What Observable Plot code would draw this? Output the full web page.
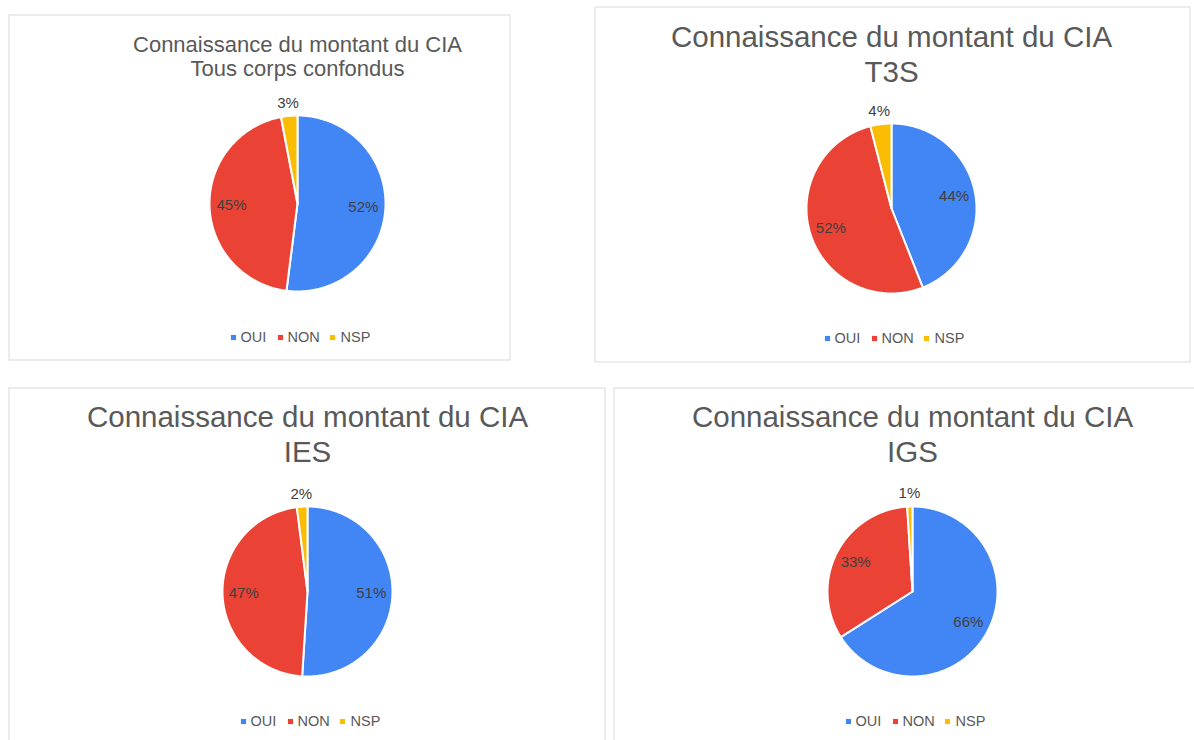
<!DOCTYPE html>
<html>
<head>
<meta charset="utf-8">
<script src="https://cdn.jsdelivr.net/npm/d3@7"></script>
<script src="https://cdn.jsdelivr.net/npm/@observablehq/plot@0.6"></script>
<style>
  html, body { margin: 0; padding: 0; background: #fff; overflow: hidden; }
  #chart svg { display: block; }
</style>
</head>
<body>
<div id="chart"></div>
<script>
// ---- Data ----
const categories = ["OUI", "NON", "NSP"];
const titleLine1 = "Connaissance du montant du CIA";
const groups = ["Tous corps confondus", "T3S", "IES", "IGS"];
const oui = [52, 44, 51, 66];
const non = [45, 52, 47, 33];
const nsp = [3, 4, 2, 1];
const colors = ["#4285F4", "#EA4335", "#FBBC04"];

// ---- Layout (pixel positions of each panel) ----
const W = 1194, H = 740;
const layout = [
  {x1: 9,   y1: 15,  x2: 510,  y2: 360, cx: 297, cy: 203, r: 88, ts: 22,   t1: 44, t2: 68, ly: 337},
  {x1: 595, y1: 7,   x2: 1190, y2: 362, cx: 891, cy: 208, r: 85, ts: 29.5, t1: 37, t2: 72, ly: 338},
  {x1: 9,   y1: 388, x2: 605,  y2: 760, cx: 307, cy: 591, r: 85, ts: 29.5, t1: 417, t2: 452, ly: 721},
  {x1: 614, y1: 388, x2: 1210, y2: 760, cx: 912, cy: 591, r: 85, ts: 29.5, t1: 417, t2: 452, ly: 721}
];
const legendSquareDx = [-64, -17, 35];
const legendTextDx = [-57, -10, 43];

// ---- Derived geometry from values ----
const slices = [], labels = [], titles = [], legendMarks = [], legendTexts = [];
groups.forEach((g, i) => {
  const L = layout[i];
  const vals = [oui[i], non[i], nsp[i]];
  const arcs = d3.pie().sort(null).value(d => d)(vals);
  arcs.forEach((a, k) => {
    const key = g + "|" + categories[k];
    const pts = [{x: L.cx, y: L.cy}];
    const n = Math.max(2, Math.ceil((a.endAngle - a.startAngle) / 0.01));
    for (let j = 0; j <= n; j++) {
      const t = a.startAngle + (a.endAngle - a.startAngle) * j / n;
      pts.push({x: L.cx + L.r * Math.sin(t), y: L.cy - L.r * Math.cos(t)});
    }
    pts.push({x: L.cx, y: L.cy});
    pts.forEach(p => slices.push({...p, key, cat: categories[k]}));
    const mid = (a.startAngle + a.endAngle) / 2;
    const small = vals[k] < 5;
    const rr = small ? L.r + 13 : L.r * 0.75;
    labels.push({x: L.cx + rr * Math.sin(mid), y: L.cy - rr * Math.cos(mid), text: vals[k] + "%"});
    legendMarks.push({x: L.cx + legendSquareDx[k], y: L.ly, cat: categories[k]});
    legendTexts.push({x: L.cx + legendTextDx[k], y: L.ly, text: categories[k]});
  });
  titles.push({x: L.cx, y: L.t1, text: titleLine1, size: L.ts});
  titles.push({x: L.cx, y: L.t2, text: g, size: L.ts});
});

const chart = Plot.plot({
  width: W,
  height: H,
  margin: 0,
  x: {domain: [0, W], range: [0, W], axis: null},
  y: {domain: [0, H], range: [0, H], axis: null},
  color: {domain: categories, range: colors},
  style: {fontFamily: "'Liberation Sans', Arial, sans-serif", background: "#fff"},
  marks: [
    Plot.rect(layout, {x1: "x1", x2: "x2", y1: "y1", y2: "y2", fill: "none", stroke: "#d9d9d9", strokeWidth: 1}),
    Plot.line(slices, {x: "x", y: "y", z: "key", fill: "cat", stroke: "white", strokeWidth: 2, strokeLinejoin: "round"}),
    Plot.text(labels, {x: "x", y: "y", text: "text", fill: "#404040", fontSize: 15}),
    Plot.text(titles.filter(d => d.size < 25), {x: "x", y: "y", text: "text", fill: "#595959", fontSize: 22}),
    Plot.text(titles.filter(d => d.size >= 25), {x: "x", y: "y", text: "text", fill: "#595959", fontSize: 29.5}),
    Plot.dot(legendMarks, {x: "x", y: "y", fill: "cat", symbol: "square", r: 2.9}),
    Plot.text(legendTexts, {x: "x", y: "y", text: "text", fill: "#595959", fontSize: 14.5, textAnchor: "start"})
  ]
});
document.getElementById("chart").appendChild(chart);
</script>
</body>
</html>
